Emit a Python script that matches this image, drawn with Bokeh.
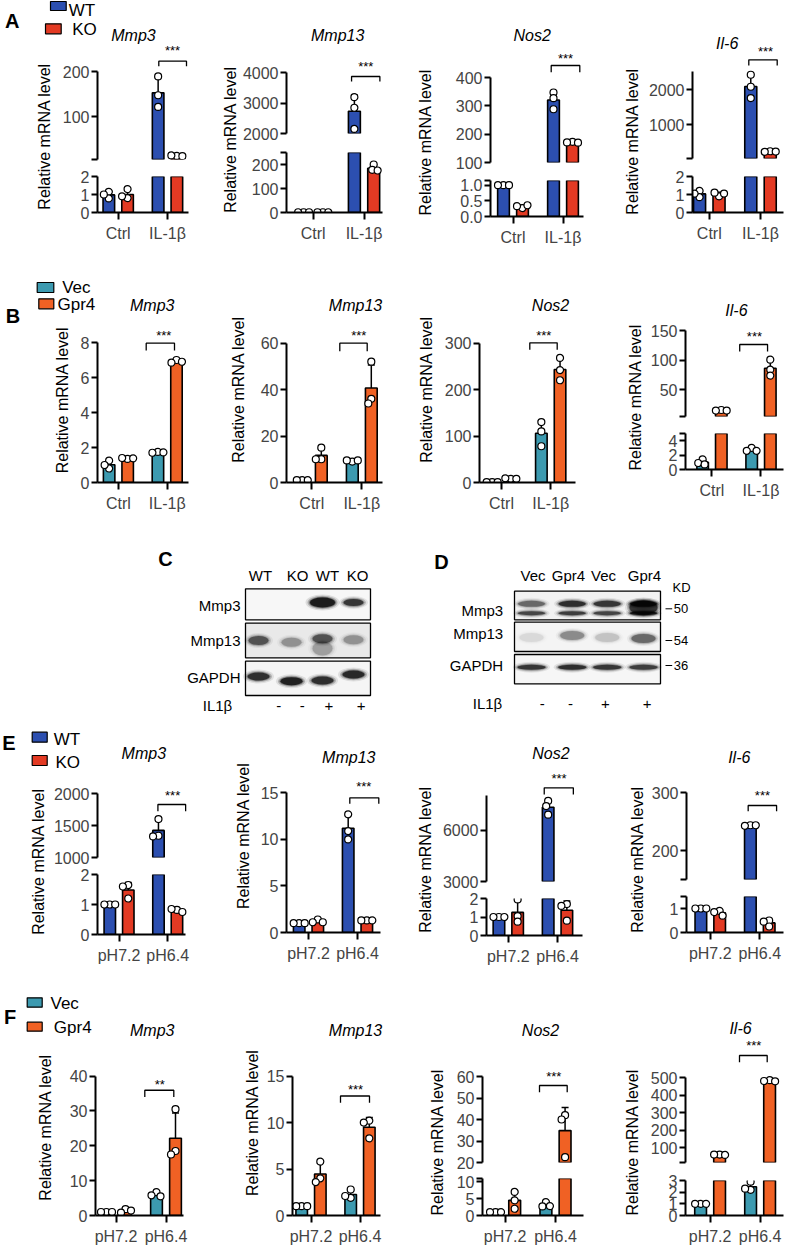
import math
import numpy as np
from bokeh.plotting import figure
from bokeh.layouts import row, column
from bokeh.models import Range1d, FixedTicker
from bokeh.embed import file_html
from bokeh.resources import INLINE
from bokeh.core.properties import value

FONT = "Liberation Sans"

# ============================ DATA ============================
GENES = ["Mmp3", "Mmp13", "Nos2", "Il-6"]
KO_GROUPS = ["WT", "KO"]
OE_GROUPS = ["Vec", "Gpr4"]
IL_CONDS = ["Ctrl", "IL-1\u03b2"]
PH_CONDS = ["pH7.2", "pH6.4"]

# replicate values; bar order: [grp1-cond1, grp2-cond1, grp1-cond2, grp2-cond2]
A_MMP3 = [[1.15, 0.78, 1.0], [0.8, 1.3, 0.9], [190, 148, 122], [13, 14, 12.5]]
A_MMP13 = [[1, 1, 1], [1, 1, 1], [3200, 2850, 2150], [200, 178, 175]]
A_NOS2 = [[1, 1, 1], [0.27, 0.33, 0.36], [347, 327, 288], [173, 171, 170]]
A_IL6 = [[1.2, 0.85, 1.05], [0.9, 1.1, 1.05], [2420, 2080, 1760], [255, 240, 245]]

B_MMP3 = [[1.25, 0.8, 1.0], [1.35, 1.4, 1.38], [1.75, 1.7, 1.72], [7.0, 6.85, 6.9]]
B_MMP13 = [[1, 1, 1], [15, 10, 10], [9, 9.5, 9.5], [52, 36, 34]]
B_NOS2 = [[1, 1, 1], [8, 9, 8], [130, 110, 78], [268, 242, 220]]
B_IL6 = [[1.4, 0.9, 0.7], [16, 15, 15], [3.0, 2.6, 2.6], [101, 84, 74]]

E_MMP3 = [[1, 1, 1], [1.65, 1.6, 1.2], [1600, 1340, 1330], [0.82, 0.85, 0.75]]
E_MMP13 = [[1, 1, 1], [1.4, 1.1, 1.1], [12.7, 10.9, 10.0], [1.3, 1.3, 1.3]]
E_NOS2 = [[1, 1, 1], [1.95, 1.05, 0.75], [7700, 7400, 6900], [1.7, 1.6, 0.8]]
E_IL6 = [[1, 1, 1], [0.9, 0.85, 0.7], [244, 243, 244], [0.5, 0.45, 0.25]]

F_MMP3 = [[1, 1, 1], [1.8, 0.8, 1.4], [6.7, 5.8, 5.5], [30.5, 18.5, 17.5]]
F_MMP13 = [[1, 1, 1], [5.8, 4.0, 3.6], [2.8, 1.9, 2.1], [10.2, 10.0, 8.3]]
F_NOS2 = [[1, 1, 1], [7.0, 4.5, 2.0], [4.0, 2.7, 2.8], [42, 40, 22.5]]
F_IL6 = [[1, 1, 1], [60, 60, 58], [2.9, 2.2, 2.3], [485, 480, 478]]

SIG_A = ["***", "***", "***", "***"]
SIG_B = ["***", "***", "***", "***"]
SIG_E = ["***", "***", "***", "***"]
SIG_F = ["**", "***", "***", "***"]

# y tick labels: (lower / only segment, upper segment or None)
TICKS_A = [([0, 1, 2], [100, 200]), ([0, 100, 200], [2000, 3000, 4000]),
           ([0.0, 0.5, 1.0], [100, 200, 300, 400]), ([0, 1, 2], [1000, 2000])]
TICKS_B = [([0, 2, 4, 6, 8], None), ([0, 20, 40, 60], None),
           ([0, 100, 200, 300], None), ([0, 2, 4], [50, 100, 150])]
TICKS_E = [([0, 1, 2], [1000, 1500, 2000]), ([0, 5, 10, 15], None),
           ([0, 1, 2], [3000, 6000]), ([0, 1], [200, 300])]
TICKS_F = [([0, 10, 20, 30, 40], None), ([0, 5, 10, 15], None),
           ([0, 5, 10], [20, 30, 40, 50, 60]), ([0, 1, 2, 3], [100, 200, 300, 400, 500])]

# western blots: lanes, treatment and band intensities (0..1)
C_LANES = ["WT", "KO", "WT", "KO"]
D_LANES = ["Vec", "Gpr4", "Vec", "Gpr4"]
IL1B_SIGNS = ["-", "-", "+", "+"]
BLOT_ROWS = ["Mmp3", "Mmp13", "GAPDH"]
C_MMP3_BAND = [0.0, 0.0, 1.0, 0.8]
C_MMP13_BAND = [0.6, 0.3, 0.6, 0.3]
C_GAPDH_BAND = [0.85, 0.95, 0.85, 0.9]
D_MMP3_UPPER = [0.5, 0.85, 0.8, 1.0]
D_MMP3_LOWER = [0.7, 0.75, 0.7, 1.0]
D_MMP13_BAND = [0.08, 0.35, 0.15, 0.5]
D_GAPDH_BAND = [0.8, 0.85, 0.8, 0.75]
D_KD = ["50", "54", "36"]

# ============================ STYLE / LAYOUT ============================
WT_C, KO_C = "#2c4fb0", "#e33a23"
VEC_C, GPR_C = "#3c9ab0", "#f06124"
OFS, BAR_W = 0.19, 0.235
DOT_SEP = 5.5

LAY_A = dict(Y0=0, Y1=262, Yh=44, subs=[
    dict(xs=(0, 58, 200), ax=96.7, xe=188.3, T=(117.7, 167), lo=(0, 212, 2, 175.7), up=(5, 159.3, 200, 71.7),
         ylab=(44, 135.8), title=(133, 35), stars=(172, 47), br=(158.3, 186, 60.7, 65.7)),
    dict(xs=(200, 239, 398), ax=285, xe=381.7, T=(312, 363.3), lo=(0, 212, 250, 151.7), up=(2000, 133.3, 4000, 72.7),
         ylab=(230, 139), title=(336.7, 35), stars=(365, 63.3), br=(350.7, 379.3, 76, 81)),
    dict(xs=(398, 445, 608), ax=490, xe=582.7, T=(512.5, 562.5), lo=(0, 216, 1.15, 180), up=(100, 161.7, 400, 76.7),
         ylab=(425, 141.7), title=(531.7, 35), stars=(565, 55), br=(550.7, 579.3, 65, 71.7)),
    dict(xs=(608, 645, 786), ax=691.7, xe=783.3, T=(708.8, 760), lo=(0, 212.3, 2, 175.7), up=(50, 158.3, 2500, 71.7),
         utop=2500, ylab=(631.7, 140.8), title=(726.7, 43.3), stars=(765, 48.3), br=(748.3, 776.7, 59.3, 65)),
])
LAY_B = dict(Y0=262, Y1=515, Yh=326, subs=[
    dict(xs=(0, 75, 200), ax=96.7, xe=188.3, T=(117.9, 166.7), lo=(0, 481.7, 8, 341.7),
         ylab=(61.7, 415), title=(151.7, 305), stars=(163.3, 331.7), br=(145.7, 174, 342.7, 350)),
    dict(xs=(200, 252, 398), ax=285.7, xe=381.7, T=(311.3, 361.3), lo=(0, 481.7, 60, 342.3),
         ylab=(238.3, 408), title=(355, 305), stars=(358.3, 331.7), br=(339.3, 366.7, 342.7, 350.7)),
    dict(xs=(398, 440, 600), ax=479.3, xe=575, T=(501, 550.2), lo=(0, 481.7, 300, 342.3),
         ylab=(426, 408), title=(550, 305), stars=(543.3, 331.7), br=(529.3, 556.7, 342.3, 349.3)),
    dict(xs=(600, 647, 786), ax=683.3, xe=783.3, T=(710, 760), lo=(0, 469.3, 5, 432.7), up=(5, 415.9, 150, 330),
         ylab=(635, 396.7), title=(735, 310), stars=(753.3, 332.7), br=(738.3, 766.7, 344, 351)),
])
LAY_E = dict(Y0=715, Y1=975, Yh=775, subs=[
    dict(xs=(0, 50, 200), ax=95, xe=185, T=(117, 166.7), lo=(0, 934, 2, 874), up=(1000, 856.7, 2000, 792.7),
         ylab=(38.3, 861), title=(143.3, 753.3), stars=(171.7, 791.7), br=(156.7, 185, 804, 810.7)),
    dict(xs=(200, 256, 400), ax=286, xe=380, T=(308, 357), lo=(0, 932.3, 15, 792.7),
         ylab=(243.3, 859), title=(348.3, 756.7), stars=(363.3, 783.3), br=(349.3, 378.3, 797.3, 803.3)),
    dict(xs=(400, 439, 605), ax=485, xe=581.7, T=(507, 556.7), lo=(0, 935, 2, 898.3), up=(3000, 880.7, 8000, 795),
         utop=8000, ylab=(425, 859), title=(550, 753.3), stars=(558.3, 775), br=(543.3, 572.7, 787.3, 794)),
    dict(xs=(605, 648, 786), ax=685, xe=783.3, T=(709, 759), lo=(0, 932.3, 1.5, 896.3), up=(150, 879.3, 300, 792.7),
         ylab=(636.7, 859), title=(738.3, 756.7), stars=(761.7, 791.7), br=(747.3, 776, 805, 810.7)),
])
LAY_F = dict(Y0=975, Y1=1247, Yh=1050, subs=[
    dict(xs=(0, 60, 200), ax=95, xe=183, T=(115.5, 165.5), lo=(0, 1216, 40, 1075.7),
         ylab=(45, 1141.7), title=(151.7, 1030), stars=(159.3, 1081.7), br=(144.3, 173.3, 1090, 1096.7)),
    dict(xs=(200, 263, 400), ax=291.7, xe=380, T=(310.5, 359.5), lo=(0, 1216, 15, 1076),
         ylab=(251.7, 1141.7), title=(355, 1030), stars=(355, 1086.7), br=(340, 369, 1096, 1102.7)),
    dict(xs=(400, 450, 605), ax=481.7, xe=583.3, T=(504.6, 555), lo=(0, 1216, 11, 1178.3), up=(20, 1161.7, 60, 1075.7),
         ylab=(436.7, 1141.7), title=(540, 1030), stars=(553.3, 1073.3), br=(539, 566.7, 1085, 1091.7)),
    dict(xs=(605, 645, 786), ax=685, xe=783.3, T=(709.6, 759.6), lo=(0, 1216, 3, 1180), up=(15, 1161.7, 500, 1076.7),
         ylab=(631.7, 1141.7), title=(740, 1028.3), stars=(753.3, 1041.7), br=(739, 766.7, 1055, 1061.7)),
])

LEG_A = dict(letter=("A", 11.7, 20), items=[(50, 1, 65.7, 10, 68.3, 9.5), (45, 23.3, 60.7, 33.3, 71.7, 29)])
LEG_B = dict(letter=("B", 12.5, 315), items=[(36.7, 282, 53.3, 292, 61.7, 287), (38.3, 298.3, 53.3, 308.3, 57, 304)])
LEG_E = dict(letter=("E", 8.5, 742.5), items=[(31.7, 731.7, 46.7, 741.7, 53.3, 739.3), (31.7, 755, 46.7, 765, 55, 761.7)])
LEG_F = dict(letter=("F", 9.5, 1016), items=[(26.7, 997.3, 41.7, 1006.7, 50, 1003.3), (26.7, 1021.7, 41.7, 1030.7, 53.3, 1026.7)])


# ============================ HELPERS ============================
def px_fig(x0, x1, y0, y1):
    p = figure(width=int(x1 - x0), height=int(y1 - y0), x_range=Range1d(x0, x1), y_range=Range1d(y1, y0),
               toolbar_location=None, output_backend="svg", title=None, x_axis_type=None, y_axis_type=None,
               min_border_left=0, min_border_right=0, min_border_top=0, min_border_bottom=0)
    p.outline_line_color = None
    return p


def ptext(p, x, y, t, size, align="center", style="normal", angle=0.0, baseline="middle"):
    p.text(x=[x], y=[y], text=[t], text_font=value(FONT), text_font_size=f"{size}px",
           text_align=align, text_baseline=baseline, text_font_style=style, angle=angle,
           text_color="black")


def seg_k(seg):
    return (seg[1] - seg[3]) / (seg[2] - seg[0])


def fmt_ticks(ticks):
    dec = any(abs(t - round(t)) > 1e-9 for t in ticks)
    return {t: (f"{t:.1f}" if dec else str(int(round(t)))) for t in ticks}


def style_y(p, labels, bounds):
    ax = p.yaxis[0]
    ax.ticker = FixedTicker(ticks=list(labels.keys()))
    ax.major_label_overrides = labels
    ax.bounds = bounds
    ax.axis_line_width = 2
    ax.major_tick_line_width = 2
    ax.major_tick_out = 6
    ax.major_tick_in = 0
    ax.minor_tick_out = 0
    ax.minor_tick_in = 0
    ax.major_label_standoff = 2
    ax.major_label_text_font = FONT
    ax.major_label_text_font_size = "16px"


def style_x(p, conds, bounds):
    ax = p.xaxis[0]
    ax.ticker = FixedTicker(ticks=[1, 2])
    ax.major_label_overrides = {1: conds[0], 2: conds[1]}
    ax.bounds = bounds
    ax.axis_line_width = 2
    ax.major_tick_line_width = 2
    ax.major_tick_out = 7
    ax.major_tick_in = 0
    ax.minor_tick_out = 0
    ax.minor_tick_in = 0
    ax.major_label_standoff = 5
    ax.major_label_text_font = FONT
    ax.major_label_text_font_size = "16px"


def build_sub(L, s, data, cols, groups, conds, gene, sig, ticks, legend=None):
    Y0, Y1 = L["Y0"], L["Y1"]
    top_y = L["Yh"] if legend else Y0
    xs0, xsp, xe = s["xs"]
    T1, T2 = s["T"]
    sx = T2 - T1
    fl = int(round(s["ax"]))
    fr = min(int(round(s["xe"])) + 6, xe - 1)

    def dxf(px):
        return 1 + (px - T1) / sx

    xr = Range1d(dxf(fl), dxf(fr))
    lo, up = s["lo"], s.get("up")
    tl, tu = ticks

    vals = [np.array(v, dtype=float) for v in data]
    means = [float(v.mean()) for v in vals]
    sds = [float(v.std(ddof=1)) for v in vals]
    tops = [m + d for m, d in zip(means, sds)]
    bx = [1 - OFS, 1 + OFS, 2 - OFS, 2 + OFS]
    bcol = [cols[0], cols[1], cols[0], cols[1]]
    cap = 3.5 / sx

    def vpx(v):
        seg = up if (up is not None and v >= up[0]) else lo
        return seg[1] - (v - seg[0]) * seg_k(seg)

    offsets = [0.0]
    for i in range(1, 30):
        offsets += [-0.5 * i, 0.5 * i]
    dots = []  # (x, y)
    for i, v in enumerate(vals):
        placed = []
        for y in v:
            py = vpx(y)
            chosen = 0.0
            for off in offsets:
                if all((off - o) ** 2 + (py - q) ** 2 >= DOT_SEP ** 2 for o, q in placed):
                    chosen = off
                    break
            placed.append((chosen, py))
            dots.append((bx[i] + chosen / sx, float(y)))

    def marks(p, vmin, vmax, base):
        idx = [i for i in range(4) if means[i] > vmin]
        if idx:
            p.vbar(x=[bx[i] for i in idx], width=BAR_W, top=[means[i] for i in idx], bottom=base,
                   fill_color=[bcol[i] for i in idx], line_color="black", line_width=1.6)
        eidx = [i for i in range(4) if tops[i] > vmin and means[i] < vmax and sds[i] > 0]
        if eidx:
            p.segment(x0=[bx[i] for i in eidx], y0=[max(means[i], vmin) for i in eidx],
                      x1=[bx[i] for i in eidx], y1=[min(tops[i], vmax) for i in eidx],
                      line_color="black", line_width=1.5)
        cidx = [i for i in eidx if tops[i] <= vmax]
        if cidx:
            p.segment(x0=[bx[i] - cap for i in cidx], y0=[tops[i] for i in cidx],
                      x1=[bx[i] + cap for i in cidx], y1=[tops[i] for i in cidx],
                      line_color="black", line_width=1.5)
        d = [(x, y) for x, y in dots if vmin < y <= vmax or (vmin <= 0 and y <= vmax)]
        if d:
            p.scatter(x=[a for a, _ in d], y=[b for _, b in d], size=7, marker="circle",
                      fill_color="white", line_color="black", line_width=1.2)

    def mkfig(h, ft, fb, yr, with_x):
        p = figure(width=xe - xsp, height=h, x_range=xr, y_range=yr, toolbar_location=None,
                   output_backend="svg", title=None, x_axis_type=("linear" if with_x else None),
                   min_border_left=fl - xsp, min_border_right=xe - fr, min_border_top=ft, min_border_bottom=fb)
        p.outline_line_color = None
        p.grid.grid_line_color = None
        return p

    lo_labels = fmt_ticks(tl)
    if up is not None:
        gap = int(round((up[1] + lo[3]) / 2))
        # upper segment
        fb_u = int(round(up[1]))
        ku = seg_k(up)
        y_end_u = up[0] + (fb_u - top_y) / ku
        top = mkfig(gap - top_y, 0, gap - fb_u, Range1d(up[0], y_end_u), False)
        labels = {up[0]: ""}
        labels.update(fmt_ticks(tu))
        style_y(top, dict(sorted(labels.items())), (up[0], s.get("utop", max(tu))))
        marks(top, up[0], y_end_u * 10, up[0] - 12.0 / ku)
        # lower segment
        ft_l = int(round(lo[3]))
        fb_l = int(round(lo[1]))
        bot = mkfig(Y1 - gap, ft_l - gap, Y1 - fb_l, Range1d(0, lo[2]), True)
        labels = {lo[2]: ""}
        labels.update(lo_labels)
        style_y(bot, dict(sorted(labels.items())), (0, lo[2]))
        style_x(bot, conds, (dxf(fl), dxf(s["xe"])))
        marks(bot, -1e9, lo[2] * 1.03, 0)
        plot = column(top, bot)
        tseg, tfb = up, fb_u
    else:
        fb = int(round(lo[1]))
        k = seg_k(lo)
        top = mkfig(Y1 - top_y, 0, Y1 - fb, Range1d(0, (fb - top_y) / k), True)
        style_y(top, lo_labels, (0, max(tl)))
        style_x(top, conds, (dxf(fl), dxf(s["xe"])))
        marks(top, -1e9, 1e12, 0)
        plot = top
        tseg, tfb = lo, fb

    kt = seg_k(tseg)

    def dyf(py):
        return tseg[0] + (tfb - py) / kt

    header = None
    if legend:
        header = px_fig(xs0, xe, Y0, top_y)
        letter, lx, ly = legend["letter"]
        ptext(header, lx, ly, letter, 20, style="bold")
        for (qx0, qy0, qx1, qy1, tx, ty), c, name in zip(legend["items"], cols, groups):
            header.quad(left=[qx0], right=[qx1], top=[qy0], bottom=[qy1], fill_color=c,
                        line_color="black", line_width=1.2)
            ptext(header, tx, ty, name, 17, align="left")

    # gene title
    tx, ty = s["title"]
    if header is not None and ty < top_y:
        ptext(header, tx, ty, gene, 16, style="italic")
    else:
        top.text(x=[dxf(tx)], y=[dyf(ty)], text=[gene], text_font=value(FONT), text_font_size="16px",
                 text_align="center", text_baseline="middle", text_font_style="italic")
    # significance
    sxp, syp = s["stars"]
    top.text(x=[dxf(sxp)], y=[dyf(syp + 3)], text=[sig], text_font=value(FONT), text_font_size="13px",
             text_align="center", text_baseline="middle")
    bx0, bx1, byt, byl = s["br"]
    top.line(x=[dxf(bx0), dxf(bx0), dxf(bx1), dxf(bx1)], y=[dyf(byl), dyf(byt), dyf(byt), dyf(byl)],
             line_color="black", line_width=1.3)

    # y axis label
    lab = px_fig(xs0, xsp, top_y, Y1)
    lx, ly = s["ylab"]
    ptext(lab, lx, ly, "Relative mRNA level", 16, angle=math.pi / 2)

    body = row(lab, plot)
    if header is not None:
        return column(header, body)
    return body


def build_band(L, datasets, cols, groups, conds, sigs, ticks, legend):
    subs = []
    for i, s in enumerate(L["subs"]):
        subs.append(build_sub(L, s, datasets[i], cols, groups, conds, GENES[i], sigs[i], ticks[i],
                              legend if i == 0 else None))
    return row(*subs)


def band(p, x, y, w, h, inten):
    if inten <= 0:
        return
    for dw, dh, a in [(9, 6, 0.10), (5, 3.5, 0.22), (2, 1.5, 0.35), (0, 0, 0.75)]:
        p.ellipse(x=[x], y=[y], width=[w + dw], height=[h + dh], fill_color="black",
                  fill_alpha=a * inten, line_color=None)


def blot_band():
    p = px_fig(0, 786, 515, 715)
    ptext(p, 165, 558, "C", 20, style="bold")
    ptext(p, 441, 561.7, "D", 20, style="bold")

    # ---- C
    for x, t in zip([260, 297, 327, 357], C_LANES):
        ptext(p, x, 575, t, 15)
    c_boxes = [(588.3, 619.3, "#f7f7f7"), (622.7, 657.3, "#e9e9e9"), (660.7, 695, "#f5f5f5")]
    for (y0, y1, bg), name, ly in zip(c_boxes, BLOT_ROWS, [605, 640, 676.7]):
        p.quad(left=[245], right=[370], top=[y0], bottom=[y1], fill_color=bg, line_color="black", line_width=1.3)
        ptext(p, 240, ly, name, 15, align="right")
    c_x = [258, 291, 322, 353]
    for x, it, w, h in zip(c_x, C_MMP3_BAND, [22, 22, 25, 20], [8, 8, 10, 7]):
        band(p, x, 602, w, h, it)
    for x, it, y in zip(c_x, C_MMP13_BAND, [640, 641.7, 638.3, 639.3]):
        band(p, x, y, 20, 9, it)
    band(p, 322, 648, 20, 14, 0.25)
    for x, it, y in zip(c_x, C_GAPDH_BAND, [676, 680.7, 680, 674]):
        band(p, x, y, 22, 8, it)
    ptext(p, 231.7, 705, "IL1\u03b2", 15, align="right")
    for x, t in zip([278.3, 301.7, 328.3, 360.7], IL1B_SIGNS):
        ptext(p, x, 705, t, 15)

    # ---- D
    for x, t in zip([532.5, 568, 603, 644], D_LANES):
        ptext(p, x, 575, t, 15)
    d_boxes = [(590.7, 619.3, "#f2f2f2"), (621.7, 651, "#f4f4f4"), (654, 683.3, "#f6f6f6")]
    for (y0, y1, bg), name, ly in zip(d_boxes, BLOT_ROWS, [610, 633.3, 665]):
        p.quad(left=[514], right=[660], top=[y0], bottom=[y1], fill_color=bg, line_color="black", line_width=1.3)
        ptext(p, 502.7, ly, name, 15, align="right")
    d_x = [531, 571.7, 606.7, 643]
    for x, iu, il in zip(d_x, D_MMP3_UPPER, D_MMP3_LOWER):
        band(p, x, 603.3, 27, 6, iu)
        band(p, x, 612.7, 27, 4, il)
    band(p, 643, 607, 28, 14, 0.8)
    for x, it, y in zip(d_x, D_MMP13_BAND, [637, 635, 637, 638]):
        band(p, x, y, 24, 9, it)
    for x, it in zip(d_x, D_GAPDH_BAND):
        band(p, x, 666.7, 28, 5, it)
    for y, kd in zip([608.3, 640, 665], D_KD):
        p.segment(x0=[665], y0=[y], x1=[671.7], y1=[y], line_color="black", line_width=1)
        ptext(p, 673.3, y, kd, 13, align="left")
    ptext(p, 681, 586.7, "KD", 13)
    ptext(p, 501.7, 703.3, "IL1\u03b2", 15, align="right")
    for x, t in zip([541.7, 570, 605, 646.7], IL1B_SIGNS):
        ptext(p, x, 703.3, t, 15)
    return p


# ============================ ASSEMBLE ============================
bandA = build_band(LAY_A, [A_MMP3, A_MMP13, A_NOS2, A_IL6], (WT_C, KO_C), KO_GROUPS, IL_CONDS, SIG_A, TICKS_A, LEG_A)
bandB = build_band(LAY_B, [B_MMP3, B_MMP13, B_NOS2, B_IL6], (VEC_C, GPR_C), OE_GROUPS, IL_CONDS, SIG_B, TICKS_B, LEG_B)
bandCD = blot_band()
bandE = build_band(LAY_E, [E_MMP3, E_MMP13, E_NOS2, E_IL6], (WT_C, KO_C), KO_GROUPS, PH_CONDS, SIG_E, TICKS_E, LEG_E)
bandF = build_band(LAY_F, [F_MMP3, F_MMP13, F_NOS2, F_IL6], (VEC_C, GPR_C), OE_GROUPS, PH_CONDS, SIG_F, TICKS_F, LEG_F)

layout = column(bandA, bandB, bandCD, bandE, bandF)
open("out.html", "w").write(file_html(layout, INLINE))
